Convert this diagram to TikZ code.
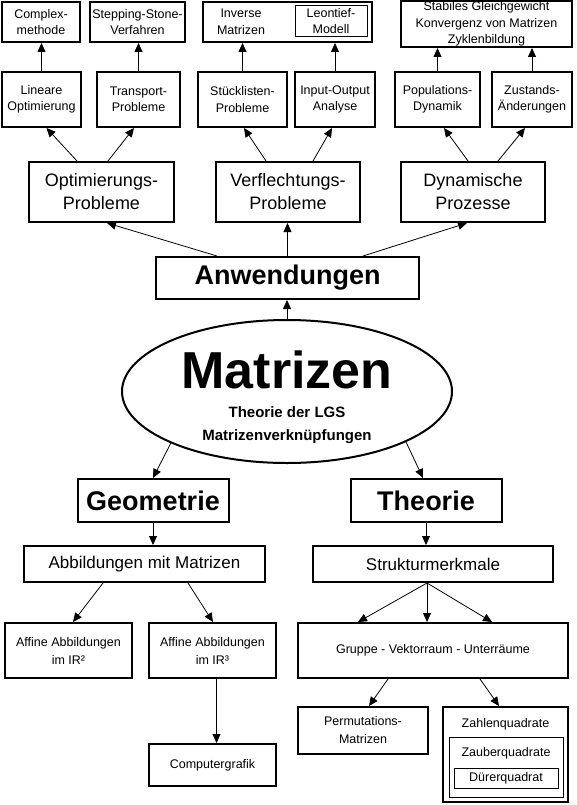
\documentclass[tikz,border=0pt]{standalone}
\usepackage{fontspec}
\setmainfont{Liberation Sans}
\usetikzlibrary{arrows.meta,shapes.geometric,calc}
\begin{document}
\begin{tikzpicture}[x=1pt,y=-1pt,
  box/.style={draw,line width=2pt,inner sep=0pt,align=center},
  thinbox/.style={draw,line width=1pt,inner sep=0pt,align=center},
  lbl/.style={inner sep=0pt,align=center},
  fs/.style={font=\fontsize{12.5}{16.5}\selectfont},
  fsb/.style={font=\fontsize{12.5}{18}\selectfont},
  fm/.style={font=\fontsize{18}{23}\selectfont},
  fab/.style={font=\fontsize{17}{21}\selectfont},
  fbig/.style={font=\fontsize{27}{30}\selectfont\bfseries},
  arr/.style={line width=0.8pt,-{Triangle[length=9pt,width=8pt]}}
]
\useasboundingbox (0,0) rectangle (576,805);

% Row 1
\node[box,fs,minimum width=78pt,minimum height=40pt] (cm) at (41,22) {Complex-\\methode};
\node[box,fs,minimum width=95pt,minimum height=40pt] (ss) at (137.5,22) {Stepping-Stone-\\Verfahren};
\node[box,minimum width=169pt,minimum height=40pt] (im) at (287.5,22) {};
\node[lbl,fs] (imt) at (241,22) {Inverse\\Matrizen};
\node[thinbox,fs,minimum width=72pt,minimum height=31pt] (lm) at (331,21) {Leontief-\\Modell};
\node[box,fs,minimum width=171pt,minimum height=46pt] (sg) at (486.5,24) {Stabiles Gleichgewicht\\Konvergenz von Matrizen\\Zyklenbildung};

% Row 2
\node[box,fs,minimum width=79pt,minimum height=55pt] (lo) at (41.5,99.5) {Lineare\\Optimierung};
\node[box,fs,minimum width=83pt,minimum height=55pt] (tp) at (138.5,99.5) {Transport-\\Probleme};
\node[box,fs,minimum width=89pt,minimum height=55pt] (sl) at (242.5,99.5) {Stücklisten-\\Probleme};
\node[box,fs,minimum width=80pt,minimum height=55pt] (io) at (335,99.5) {Input-Output\\Analyse};
\node[box,fs,minimum width=85pt,minimum height=55pt] (pd) at (437.5,99.5) {Populations-\\Dynamik};
\node[box,fs,minimum width=80pt,minimum height=55pt] (za) at (532,99.5) {Zustands-\\Änderungen};

% Row 3
\node[box,fm,minimum width=145pt,minimum height=60pt] (op) at (101.5,192) {Optimierungs-\\Probleme};
\node[box,fm,minimum width=144pt,minimum height=60pt] (vp) at (288,192) {Verflechtungs-\\Probleme};
\node[box,fm,minimum width=144pt,minimum height=60pt] (dp) at (473,192) {Dynamische\\Prozesse};

% Anwendungen
\node[box,fbig,minimum width=263pt,minimum height=42pt] (an) at (287.5,278) {Anwendungen};

% Ellipse
\node[draw,ellipse,line width=2pt,minimum width=330pt,minimum height=143pt,inner sep=0pt] (el) at (287,391.5) {};
\node[lbl,font=\fontsize{52}{52}\selectfont\bfseries] (elt) at (287,370) {Matrizen};
\node[lbl,font=\fontsize{15}{23}\selectfont\bfseries] (els) at (287,425.5) {Theorie der LGS\\Matrizenverknüpfungen};

% Geometrie / Theorie
\node[box,fbig,minimum width=151pt,minimum height=43pt] (geo) at (153,500.5) {Geometrie};
\node[box,fbig,minimum width=151pt,minimum height=43pt] (theo) at (426,500.5) {Theorie};
\node[box,fab,minimum width=241pt,minimum height=36pt] (abb) at (144.5,564) {Abbildungen mit Matrizen};
\node[box,fab,minimum width=240pt,minimum height=36pt] (st) at (433,564) {Strukturmerkmale};

% Bottom left
\node[box,fsb,minimum width=127pt,minimum height=55pt] (a2) at (68.5,650.5) {Affine Abbildungen\\im IR²};
\node[box,fsb,minimum width=127pt,minimum height=55pt] (a3) at (212.5,650.5) {Affine Abbildungen\\im IR³};
\node[box,fsb,minimum width=127pt,minimum height=42pt] (cg) at (212.5,765) {Computergrafik};

% Bottom right
\node[box,fsb,minimum width=270pt,minimum height=55pt] (gr) at (433,650.5) {Gruppe - Vektorraum - Unterräume};
\node[box,fsb,minimum width=130pt,minimum height=47pt] (pm) at (363,730.5) {Permutations-\\Matrizen};
\node[box,minimum width=125pt,minimum height=95pt] (zq) at (505.5,754.5) {};
\node[lbl,fsb] (zqt) at (505.5,724) {Zahlenquadrate};
\node[thinbox,minimum width=114pt,minimum height=60pt] (zb) at (506,767) {};
\node[lbl,fsb] (zbt) at (506,753) {Zauberquadrate};
\node[thinbox,fsb,minimum width=104pt,minimum height=20pt] (du) at (506,778) {Dürerquadrat};

% Arrows row2 -> row1
\draw[arr] (lo.north) -- (lo.north |- cm.south);
\draw[arr] (tp.north) -- (tp.north |- ss.south);
\draw[arr] (sl.north) -- (sl.north |- im.south);
\draw[arr] (io.north) -- (io.north |- im.south);
\draw[arr] (pd.north) -- (pd.north |- sg.south);
\draw[arr] (za.north) -- (za.north |- sg.south);

% Arrows row3 -> row2
\draw[arr] ([xshift=-24.5pt]op.north) -- ([xshift=5pt]lo.south);
\draw[arr] ([xshift=6.5pt]op.north) -- ([xshift=-4.5pt]tp.south);
\draw[arr] ([xshift=-22pt]vp.north) -- ([xshift=1.5pt]sl.south);
\draw[arr] ([xshift=25pt]vp.north) -- ([xshift=-3pt]io.south);
\draw[arr] ([xshift=-5pt]dp.north) -- ([xshift=6.5pt]pd.south);
\draw[arr] ([xshift=25pt]dp.north) -- ([xshift=-7pt]za.south);

% Anwendungen -> row3
\draw[arr] ([xshift=-70.5pt]an.north) -- ([xshift=5.5pt]op.south);
\draw[arr] (an.north) -- (an.north |- vp.south);
\draw[arr] ([xshift=75.5pt]an.north) -- ([xshift=-6pt]dp.south);

% Ellipse -> Anwendungen
\draw[arr] (el.north) -- (el.north |- an.south);

% Ellipse -> Geometrie / Theorie
\draw[arr] (el.204) -- (geo.north);
\draw[arr] (el.337) -- ([xshift=-3pt]theo.north);

\draw[arr] (geo.south) -- (geo.south |- abb.north);
\draw[arr] (theo.south) -- (theo.south |- st.north);

\draw[arr] ([xshift=-41.5pt]abb.south) -- ([xshift=4.5pt]a2.north);
\draw[arr] ([xshift=43.5pt]abb.south) -- ([xshift=0.5pt]a3.north);
\draw[arr] ([xshift=4pt]a3.south) -- ([xshift=4pt]cg.north);

\draw[arr] ([xshift=-6pt]st.south) -- ([xshift=-75pt]gr.north);
\draw[arr] ([xshift=-6pt]st.south) -- ([xshift=-6pt]gr.north);
\draw[arr] ([xshift=-6pt]st.south) -- ([xshift=59pt]gr.north);

\draw[arr] ([xshift=-45pt]gr.south) -- ([xshift=6pt]pm.north);
\draw[arr] ([xshift=47pt]gr.south) -- ([xshift=-6.5pt]zq.north);
\end{tikzpicture}
\end{document}
